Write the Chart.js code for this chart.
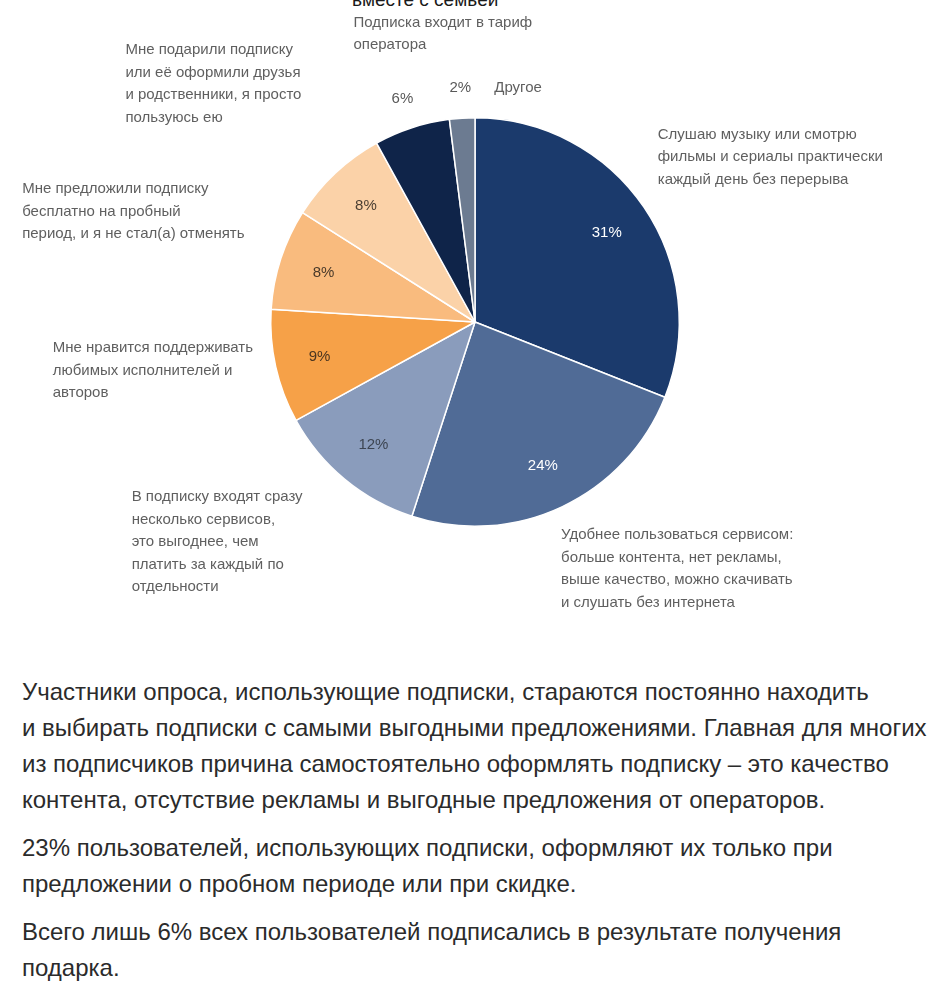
<!DOCTYPE html>
<html>
<head>
<meta charset="utf-8">
<script src="https://cdn.jsdelivr.net/npm/chart.js@4"></script>
<style>
  body { margin: 0; background: #fff; width: 928px; height: 987px; overflow: hidden; position: relative; }
  #top-cut { position: absolute; top: -11px; left: 352px; font: 19px "Liberation Sans", Arial, sans-serif; color: #1a1a1a; white-space: nowrap; }
  #wrap { position: absolute; left: 0; top: 0; width: 928px; height: 650px; }
  #notes { position: absolute; left: 22px; top: 674px; width: 910px; font: 24px/36px "Liberation Sans", Arial, sans-serif; color: #2b2b2b; }
  #notes p { margin: 0 0 12px 0; white-space: nowrap; }
</style>
</head>
<body>
<div id="top-cut">вместе с семьёй</div>
<div id="wrap"><canvas id="pie" width="928" height="650"></canvas></div>
<div id="notes">
  <p>Участники опроса, использующие подписки, стараются постоянно находить<br>и выбирать подписки с самыми выгодными предложениями. Главная для многих<br>из подписчиков причина самостоятельно оформлять подписку – это качество<br>контента, отсутствие рекламы и выгодные предложения от операторов.</p>
  <p>23% пользователей, использующих подписки, оформляют их только при<br>предложении о пробном периоде или при скидке.</p>
  <p>Всего лишь 6% всех пользователей подписались в результате получения<br>подарка.</p>
</div>
<script>
// ответы на вопрос "почему вы пользуетесь платной подпиской"
const categories = [
  ["Слушаю музыку или смотрю", "фильмы и сериалы практически", "каждый день без перерыва"],
  ["Удобнее пользоваться сервисом:", "больше контента, нет рекламы,", "выше качество, можно скачивать", "и слушать без интернета"],
  ["В подписку входят сразу", "несколько сервисов,", "это выгоднее, чем", "платить за каждый по", "отдельности"],
  ["Мне нравится поддерживать", "любимых исполнителей и", "авторов"],
  ["Мне предложили подписку", "бесплатно на пробный", "период, и я не стал(а) отменять"],
  ["Мне подарили подписку", "или её оформили друзья", "и родственники, я просто", "пользуюсь ею"],
  ["Подписка входит в тариф", "оператора"],
  ["Другое"]
]
const shares = [31, 24, 12, 9, 8, 8, 6, 2]

const sliceColors = ["#1b3a6c", "#506b96", "#8a9cbc", "#f6a148", "#f9bb7e", "#fbd2a8", "#0f2449", "#6c7b91"]
const pctColors = ["#ffffff", "#ffffff", "#3d4552", "#4a3520", "#4a3a2a", "#4a3f33", "#595959", "#595959"]
// where each caption block sits relative to the slice's outer edge
const captionShift = [[2, -72], [-7, 8], [-204, -1], [-209, -29], [-245, -73], [-200, -120], [-54, -99], [33, -24]]

const FONT = '"Liberation Sans", Arial, sans-serif'

const pieLabels = {
  id: "pieLabels",
  afterDatasetsDraw(chart) {
    const ctx = chart.ctx
    const meta = chart.getDatasetMeta(0)
    meta.data.forEach((arc, i) => {
      const p = arc.getProps(["x", "y", "startAngle", "endAngle", "outerRadius"], true)
      const mid = (p.startAngle + p.endAngle) / 2
      const cos = Math.cos(mid), sin = Math.sin(mid)
      ctx.save()
      // percent
      const inside = shares[i] >= 8
      const rr = inside ? p.outerRadius * 0.78 : p.outerRadius * 1.15
      ctx.font = "15px " + FONT
      ctx.fillStyle = pctColors[i]
      ctx.textAlign = "center"
      ctx.textBaseline = "middle"
      ctx.fillText(shares[i] + "%", p.x + cos * rr, p.y + sin * rr)
      // caption
      const ax = p.x + cos * p.outerRadius * 1.07 + captionShift[i][0]
      const ay = p.y + sin * p.outerRadius * 1.07 + captionShift[i][1]
      ctx.fillStyle = "#5f5f5f"
      ctx.textAlign = "left"
      ctx.textBaseline = "top"
      categories[i].forEach((line, k) => ctx.fillText(line, ax, ay + k * 22.5))
      ctx.restore()
    })
  }
}

new Chart(document.getElementById("pie"), {
  type: "pie",
  data: {
    labels: categories,
    datasets: [{
      data: shares,
      backgroundColor: sliceColors,
      borderColor: "#ffffff",
      borderWidth: 1.5
    }]
  },
  options: {
    responsive: false,
    animation: false,
    layout: { padding: { left: 270, right: 248, top: 117, bottom: 123 } },
    plugins: { legend: { display: false }, tooltip: { enabled: false } }
  },
  plugins: [pieLabels]
})
</script>
</body>
</html>
